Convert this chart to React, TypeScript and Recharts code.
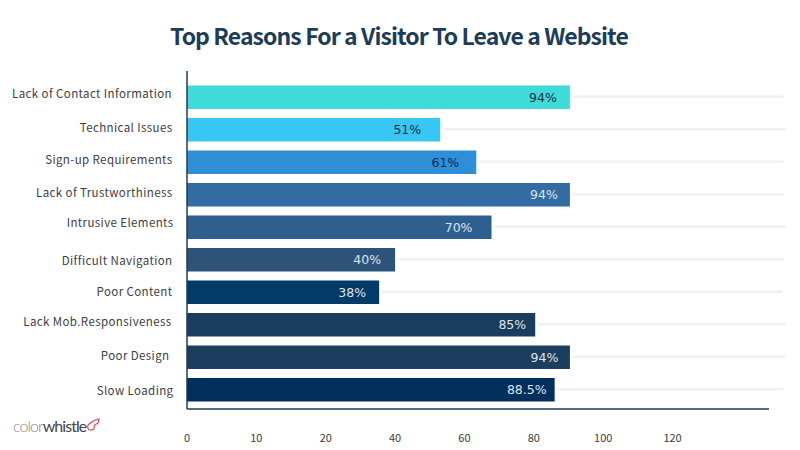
import { Bar, BarChart, Cell, LabelList, ReferenceLine, XAxis, YAxis } from 'recharts';

const FONT = '"Noto Sans CJK JP", "Noto Sans", sans-serif';

const reasons = [
  'Lack of Contact Information',
  'Technical Issues',
  'Sign-up Requirements',
  'Lack of Trustworthiness',
  'Intrusive Elements',
  'Difficult Navigation',
  'Poor Content',
  'Lack Mob.Responsiveness',
  'Poor Design',
  'Slow Loading',
];
const valueLabels = ['94%', '51%', '61%', '94%', '70%', '40%', '38%', '85%', '94%', '88.5%'];

// the axis labels are evenly spaced but not linear (0,10,20,40...) and the bars don't
// line up with their own labels, so lengths are read off the picture in tick steps
const tickLabels = ['0', '10', '20', '40', '60', '80', '100', '120'];
const tickSteps = [0, 1, 2, 3, 4, 5, 6, 7];
const barSteps = [5.52, 3.65, 4.17, 5.52, 4.39, 3.0, 2.77, 5.02, 5.52, 5.3];
const trackEnds = [8.6, 8.64, 8.6, 8.6, 8.64, 8.6, 8.59, 8.64, 8.62, 8.6];

const barColors = [
  '#3edbd8', '#38c6f2', '#2e8fd6', '#336ba3', '#2f5f8f',
  '#2d5379', '#043a68', '#1a3c5e', '#1d3d5e', '#032f5c',
];
const labelColors = [
  '#123044', '#0e2c48', '#0c2850', '#dbe5ee', '#dbe5ee',
  '#dbe5ee', '#dbe5ee', '#dbe5ee', '#dbe5ee', '#dbe5ee',
];

// small hand offsets, the source labels are not quite aligned with their rows
const tickNudgeY = [-3.5, -2, -2.5, -2, -4.5, 1, -0.5, -3, -1.5, 1];
const tickNudgeX = [-0.5, 0, 0, 0, 1, 0, 0, -1, -3, 1];
const labelInset = [13, 19, 17, 12, 19, 14, 13, 9, 11.5, 8];

const data = reasons.map((name, i) => ({ name, steps: barSteps[i], label: valueLabels[i] }));

function ReasonTick({ x, y, payload, index }: any) {
  return (
    <text
      x={172.5 + tickNudgeX[index]}
      y={y + tickNudgeY[index]}
      textAnchor="end"
      dominantBaseline="central"
      fontFamily={FONT}
      fontSize={11.5}
      letterSpacing={0.4}
      fill="#3d3d42"
    >
      {payload.value}
    </text>
  );
}

function ValueLabel({ x, y, width, height, index, value }: any) {
  return (
    <text
      x={x + width - labelInset[index]}
      y={y + height / 2}
      textAnchor="end"
      dominantBaseline="central"
      fontFamily="DejaVu Sans"
      fontSize={12.5}
      fill={labelColors[index]}
    >
      {value}
    </text>
  );
}

export default function App() {
  return (
    <div style={{ position: 'absolute', left: 0, top: 0, width: 800, height: 450, background: '#fff', overflow: 'hidden' }}>
      <div
        style={{
          position: 'absolute',
          top: 17,
          width: 798,
          textAlign: 'center',
          fontFamily: FONT,
          fontWeight: 700,
          fontSize: 23,
          lineHeight: '36px',
          letterSpacing: -0.92,
          color: '#1c3d5a',
        }}
      >
        Top Reasons For a Visitor To Leave a Website
      </div>

      <BarChart
        width={800}
        height={450}
        data={data}
        layout="vertical"
        barSize={23.5}
        margin={{ top: 71, right: 31, bottom: 0, left: 0 }}
      >
        <XAxis
          type="number"
          domain={[0, 8.39]}
          ticks={tickSteps}
          allowDataOverflow
          height={41}
          tickFormatter={(v: number) => tickLabels[v]}
          tick={{ fontFamily: FONT, fontSize: 11, fill: '#3a3a3a' }}
          tickLine={false}
          tickMargin={19}
          axisLine={{ stroke: '#1c3d5a', strokeWidth: 1.5 }}
        />
        <YAxis
          type="category"
          dataKey="name"
          width={187}
          interval={0}
          padding={{ top: 9.5, bottom: 3.5 }}
          tick={<ReasonTick />}
          tickLine={false}
          axisLine={{ stroke: '#1c3d5a', strokeWidth: 1.5 }}
        />
        {reasons.map((name, i) => (
          <ReferenceLine
            key={name}
            ifOverflow="visible"
            stroke="#f0f0f0"
            strokeWidth={2.5}
            segment={[
              { x: barSteps[i] + 0.04, y: name },
              { x: trackEnds[i], y: name },
            ]}
          />
        ))}
        <Bar dataKey="steps" isAnimationActive={false}>
          {data.map((d, i) => (
            <Cell key={d.name} fill={barColors[i]} />
          ))}
          <LabelList dataKey="label" content={<ValueLabel />} />
        </Bar>
      </BarChart>

      <div
        style={{
          position: 'absolute',
          left: 13,
          top: 414,
          fontFamily: 'Lato',
          fontWeight: 400,
          fontSize: 16,
          lineHeight: '24px',
          letterSpacing: -0.95,
          color: '#444',
        }}
      >
        <span style={{ color: '#8a8a8a', fontWeight: 300 }}>color</span>whistle
      </div>
      <svg style={{ position: 'absolute', left: 86, top: 417 }} width={15} height={15}>
        <path
          d="M2 8 L7 4 L13 2 L12 6 L8.5 8 L8 12 Q5 14 2.5 12.5 Q1 10 2 8 Z"
          fill="none"
          stroke="#d9515a"
          strokeWidth={1.2}
        />
      </svg>
    </div>
  );
}
